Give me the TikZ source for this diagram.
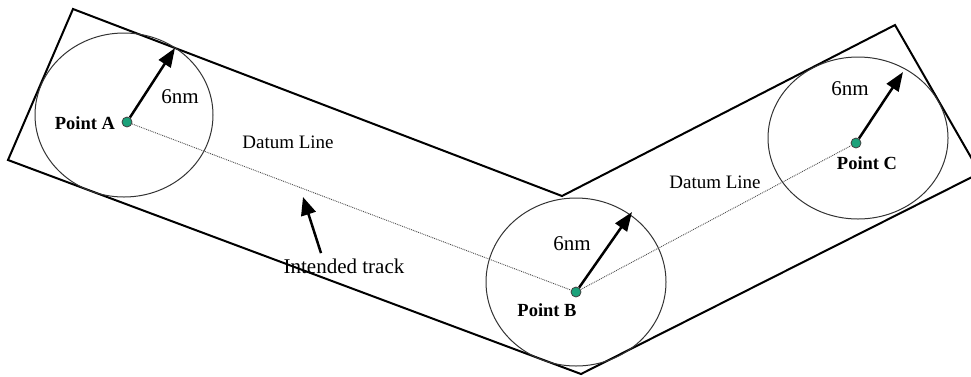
\documentclass[tikz,border=0pt]{standalone}
\usepackage{fontspec}
\setmainfont{Liberation Serif}
\usetikzlibrary{arrows.meta}
\definecolor{ptgreen}{HTML}{1BA27A}
\tikzstyle{pt}=[circle,draw=black!75,fill=ptgreen,line width=0.8pt,inner sep=0pt,minimum size=10pt]
\tikzstyle{ptlabel}=[font=\fontsize{18.5}{20}\selectfont\bfseries]
\tikzstyle{dist}=[font=\fontsize{21}{24}\selectfont]
\tikzstyle{datumtext}=[font=\fontsize{19}{22}\selectfont]
\tikzstyle{zone}=[draw=black!80,line width=1pt]
\tikzstyle{radial}=[line width=2.5pt,-{Triangle[length=19pt,width=14pt]}]

\begin{document}
\begin{tikzpicture}[x=1pt,y=-1pt]
\useasboundingbox (0,0) rectangle (971,376);
\clip (0,0) rectangle (971,376);
% airway outline
\draw[line width=2pt,line join=miter] (8,160) -- (73,9) -- (562,196) -- (895,25) -- (980,173) -- (581,374) -- cycle;
% 6nm circles
\draw[zone] (124,115) ellipse [x radius=89pt, y radius=82pt];
\draw[zone] (576,282) ellipse [x radius=90pt, y radius=84pt];
\draw[zone] (858,138) ellipse [x radius=90pt, y radius=81pt];
% points
\node[pt] (A) at (127,122) {};
\node[pt] (B) at (576,292) {};
\node[pt] (C) at (856,143) {};
\path[draw=black!70,densely dotted,line width=0.9pt] (A) -- (B) -- (C);
\coordinate (tipA) at (175,48);
\coordinate (tipB) at (632,212);
\coordinate (tipC) at (903,72);
\draw[radial] (A) -- (tipA);
\draw[radial] (B) -- (tipB);
\draw[radial] (C) -- (tipC);
\node[ptlabel] (labA) at (85,123) {Point A};
\node[ptlabel] (labB) at (547,310) {Point B};
\node[ptlabel] (labC) at (867,163) {Point C};
\node[dist] (dA) at (180,97) {6nm};
\node[dist] (dB) at (572,244) {6nm};
\node[dist] (dC) at (850,89) {6nm};
\node[datumtext] (datAB) at (288,142) {Datum Line};
\node[datumtext] (datBC) at (715,182) {Datum Line};
% intended track
\node[dist] (track) at (344,266) {Intended track};
\coordinate (trackTip) at (303,197);
\draw[line width=2.5pt,-{Triangle[length=18pt,width=15pt]}] ([xshift=-23pt,yshift=2pt]track.north) -- (trackTip);
\end{tikzpicture}
\end{document}
